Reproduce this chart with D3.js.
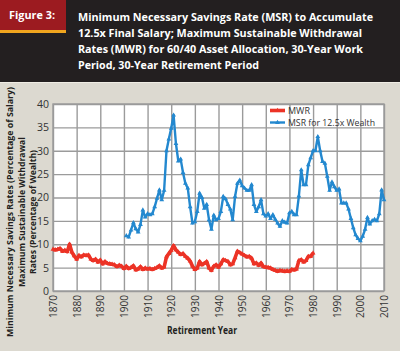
<!DOCTYPE html>
<html>
<head>
<meta charset="utf-8">
<script src="https://cdn.jsdelivr.net/npm/d3@7"></script>
<style>
  body { margin: 0; background: #dcd9d0; }
  svg { display: block; font-family: "Open Sans", sans-serif; }
</style>
</head>
<body>
<svg width="400" height="351"></svg>
<script>
// Data
const mwrStart = 1870;
const mwrValues = [
  8.9, 8.8, 8.9, 9.1, 8.5, 8.7, 8.4, 10.0, 8.3, 7.5,
  6.8, 7.6, 7.3, 7.7, 7.6, 7.7, 6.8, 6.5, 6.8, 6.2,
  6.6, 5.8, 6.3, 5.9, 5.8, 5.7, 5.6, 5.2, 5.5, 5.3,
  4.8, 5.3, 4.8, 5.0, 5.4, 4.5, 4.7, 5.2, 4.6, 4.9,
  4.7, 4.8, 4.6, 4.8, 5.0, 5.4, 4.9, 5.1, 7.3, 8.0,
  8.7, 9.7, 8.8, 8.3, 7.8, 8.0, 7.4, 7.0, 6.4, 5.3,
  4.6, 4.9, 6.3, 5.6, 5.9, 6.3, 4.9, 4.4, 5.3, 5.6,
  5.1, 5.8, 6.7, 6.5, 6.3, 5.6, 5.8, 7.1, 8.5, 8.2,
  7.9, 7.6, 7.3, 7.4, 7.0, 5.8, 6.0, 5.5, 6.0, 5.2,
  5.1, 5.0, 4.9, 4.6, 4.4, 4.2, 4.4, 4.3, 4.2, 4.3,
  4.2, 4.6, 4.5, 4.7, 6.5, 6.7, 6.2, 6.5, 7.4, 7.4,
  8.1
];

const msrStart = 1901;
const msrValues = [
  11.8, 11.5, 13.0, 14.6, 13.3, 12.6, 14.2, 17.3, 15.8, 16.5,
  16.3, 16.5, 18.0, 19.8, 21.6, 19.5, 21.5, 30.0, 32.5, 34.8,
  37.6, 31.5, 27.8, 28.2, 25.3, 23.0, 22.0, 18.0, 14.5, 14.8,
  17.0, 20.9, 20.0, 17.7, 18.5, 15.2, 13.2, 16.2, 15.2, 15.5,
  17.0, 20.2, 19.7, 18.5, 17.5, 15.2, 20.2, 23.0, 23.7, 22.5,
  22.0, 21.5, 21.5, 22.7, 18.5, 17.0, 18.0, 19.5, 16.5, 16.0,
  16.5, 15.5, 16.3, 15.3, 14.5, 13.8, 15.0, 14.7, 14.5, 16.7,
  17.0, 16.3, 16.3, 20.3, 25.9, 22.7, 22.7, 27.0, 28.5, 30.0,
  30.0, 33.0, 30.0, 27.7, 27.3, 24.5, 21.5, 23.3, 22.3, 21.5,
  21.8, 18.8, 18.8, 18.8, 17.5, 15.5, 13.5, 12.0, 11.2, 10.7,
  11.7, 13.2, 15.7, 14.3, 15.0, 15.3, 15.0, 16.5, 21.6, 19.5
];

const xTicks = d3.range(1870, 2011, 10);
const yTicks = [0, 5, 10, 15, 20, 25, 30, 35, 40];

const titleLines = [
  "Minimum Necessary Savings Rate (MSR) to Accumulate",
  "12.5x Final Salary; Maximum Sustainable Withdrawal",
  "Rates (MWR) for 60/40 Asset Allocation, 30-Year Work",
  "Period, 30-Year Retirement Period"
];
const yTitleLines = [
  "Minimum Necessary Savings Rates (Percentage of Salary)",
  "Maximum Sustainable Withdrawal",
  "Rates (Percentage of Wealth)"
];
const seriesNames = ["MWR", "MSR for 12.5x Wealth"];

const mwr = mwrValues.map((v, i) => ({ year: mwrStart + i, value: v }));
const msr = msrValues.map((v, i) => ({ year: msrStart + i, value: v }));

const red = "#ec3326";
const blue = "#2388cf";
const gridColor = "#9b9b9b";

const svg = d3.select("svg");

// Header band
svg.append("rect").attr("x", 0).attr("y", 0).attr("width", 400).attr("height", 82).attr("fill", "#231f20");
svg.append("rect").attr("x", 0).attr("y", 0).attr("width", 66).attr("height", 30).attr("fill", "#9c1b20");
svg.append("rect").attr("x", 0).attr("y", 30).attr("width", 66).attr("height", 3).attr("fill", "#f0a51e");
svg.append("rect").attr("x", 0).attr("y", 82).attr("width", 400).attr("height", 1).attr("fill", "#efece4");

svg.append("text")
  .attr("x", 9).attr("y", 19)
  .attr("fill", "#fff").attr("font-weight", 700).attr("font-size", 11)
  .attr("textLength", 46).attr("lengthAdjust", "spacingAndGlyphs")
  .text("Figure 3:");

const titleWidths = [295, 284, 285, 181];
svg.append("g").selectAll("text")
  .data(titleLines)
  .join("text")
    .attr("x", 78)
    .attr("y", (d, i) => 20.5 + i * 16)
    .attr("fill", "#fff").attr("font-weight", 700).attr("font-size", 11)
    .attr("textLength", (d, i) => titleWidths[i])
    .attr("lengthAdjust", "spacingAndGlyphs")
    .text(d => d);

// Plot area
const plot = { l: 53, r: 384, t: 104, b: 291 };

const xScale = d3.scaleLinear().domain([1870, 2010]).range([plot.l, plot.r]);
const yScale = d3.scaleLinear().domain([0, 40]).range([plot.b, plot.t]);

svg.append("rect")
  .attr("x", plot.l).attr("y", plot.t)
  .attr("width", plot.r - plot.l).attr("height", plot.b - plot.t)
  .attr("fill", "#fff");

// Grid
svg.append("g")
  .attr("transform", `translate(0, ${plot.b})`)
  .call(d3.axisBottom(xScale).tickValues(xTicks).tickSize(-(plot.b - plot.t)).tickFormat(""))
  .call(g => g.select(".domain").remove())
  .call(g => g.selectAll("line").attr("stroke", gridColor).attr("stroke-width", 1.4));

svg.append("g")
  .attr("transform", `translate(${plot.l}, 0)`)
  .call(d3.axisLeft(yScale).tickValues(yTicks).tickSize(-(plot.r - plot.l)).tickFormat(""))
  .call(g => g.select(".domain").remove())
  .call(g => g.selectAll("line").attr("stroke", gridColor).attr("stroke-width", 1.4));

svg.append("rect")
  .attr("x", plot.l).attr("y", plot.t)
  .attr("width", plot.r - plot.l).attr("height", plot.b - plot.t)
  .attr("fill", "none").attr("stroke", gridColor).attr("stroke-width", 1.4);

// Tick labels
svg.append("g")
  .attr("transform", `translate(${plot.l}, 0)`)
  .call(d3.axisLeft(yScale).tickValues(yTicks).tickSize(0).tickPadding(4))
  .call(g => g.select(".domain").remove())
  .call(g => g.selectAll("text").attr("fill", "#333").attr("font-size", 10.5).attr("font-family", "Open Sans"));

svg.append("g")
  .attr("transform", `translate(0, ${plot.b})`)
  .call(d3.axisBottom(xScale).tickValues(xTicks).tickSize(0).tickFormat(d3.format("d")))
  .call(g => g.select(".domain").remove())
  .call(g => g.selectAll("text")
    .attr("fill", "#333").attr("font-size", 10).attr("font-family", "Open Sans")
    .attr("transform", "rotate(-90)")
    .attr("text-anchor", "end")
    .attr("x", -4).attr("y", 0).attr("dy", "0.35em"));

// Axis titles
svg.append("text")
  .attr("x", 202).attr("y", 334)
  .attr("text-anchor", "middle")
  .attr("fill", "#231f20").attr("font-weight", 700).attr("font-size", 10)
  .attr("textLength", 70).attr("lengthAdjust", "spacingAndGlyphs")
  .text("Retirement Year");

const yTitleX = [13, 25, 36];
const yTitleW = [250, 150, 124];
svg.append("g").selectAll("text")
  .data(yTitleLines)
  .join("text")
    .attr("transform", (d, i) => `translate(${yTitleX[i]}, 212) rotate(-90)`)
    .attr("text-anchor", "middle")
    .attr("fill", "#231f20").attr("font-weight", 700).attr("font-size", 9.5)
    .attr("textLength", (d, i) => yTitleW[i])
    .attr("lengthAdjust", "spacingAndGlyphs")
    .text(d => d);

// Lines
const line = d3.line()
  .x(d => xScale(d.year))
  .y(d => yScale(d.value));

const marker = d3.symbol().type(d3.symbolTriangle).size(10);

svg.append("path")
  .attr("d", line(mwr))
  .attr("fill", "none").attr("stroke", red).attr("stroke-width", 3.6)
  .attr("stroke-linejoin", "round");

svg.append("g").selectAll("path")
  .data(mwr)
  .join("path")
    .attr("transform", d => `translate(${xScale(d.year)}, ${yScale(d.value)})`)
    .attr("d", marker)
    .attr("fill", red);

svg.append("path")
  .attr("d", line(msr))
  .attr("fill", "none").attr("stroke", blue).attr("stroke-width", 2.4)
  .attr("stroke-linejoin", "round");

svg.append("g").selectAll("path")
  .data(msr)
  .join("path")
    .attr("transform", d => `translate(${xScale(d.year)}, ${yScale(d.value)})`)
    .attr("d", marker)
    .attr("fill", blue);

// Legend
const legend = svg.append("g").attr("transform", "translate(270, 110.5)");
const legendColors = [red, blue];
const legendWidths = [3.6, 2.4];
const legendTextW = [22, 87];
seriesNames.forEach((name, i) => {
  const g = legend.append("g").attr("transform", `translate(0, ${i * 12})`);
  g.append("line")
    .attr("x1", 0).attr("x2", 15)
    .attr("stroke", legendColors[i]).attr("stroke-width", legendWidths[i]);
  g.append("path")
    .attr("transform", "translate(7.5, 0)")
    .attr("d", marker)
    .attr("fill", legendColors[i]);
  g.append("text")
    .attr("x", 18).attr("y", 3.3)
    .attr("fill", "#333").attr("font-size", 9)
    .attr("textLength", legendTextW[i]).attr("lengthAdjust", "spacingAndGlyphs")
    .text(name);
});
</script>
</body>
</html>
